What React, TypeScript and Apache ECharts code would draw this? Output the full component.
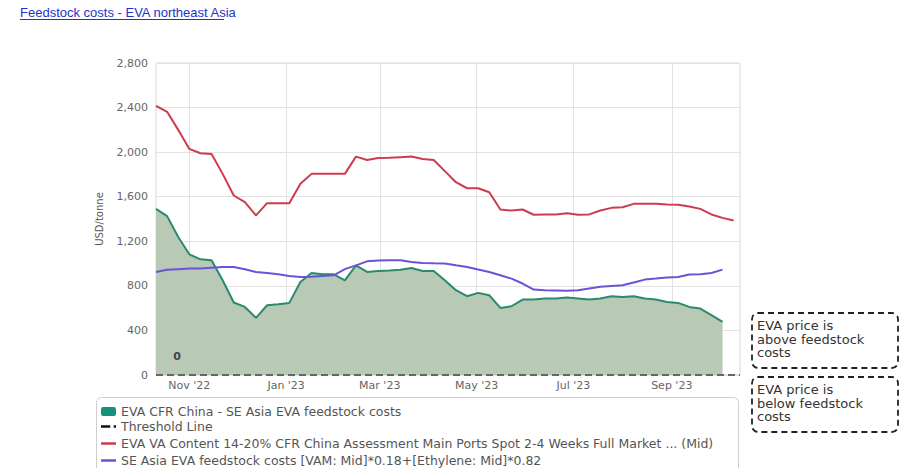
import React, { useEffect, useRef } from "react";
import * as echarts from "echarts";

const titleText = "Feedstock costs - EVA northeast Asia";

const dates = [
  "2022-10-11", "2022-10-18", "2022-10-25", "2022-11-01", "2022-11-08", "2022-11-15", "2022-11-22", "2022-11-29",
  "2022-12-06", "2022-12-13", "2022-12-20", "2022-12-27", "2023-01-03", "2023-01-10", "2023-01-17", "2023-01-24",
  "2023-01-31", "2023-02-07", "2023-02-14", "2023-02-21", "2023-02-28", "2023-03-07", "2023-03-14", "2023-03-21",
  "2023-03-28", "2023-04-04", "2023-04-11", "2023-04-18", "2023-04-25", "2023-05-02", "2023-05-09", "2023-05-16",
  "2023-05-23", "2023-05-30", "2023-06-06", "2023-06-13", "2023-06-20", "2023-06-27", "2023-07-04", "2023-07-11",
  "2023-07-18", "2023-07-25", "2023-08-01", "2023-08-08", "2023-08-15", "2023-08-22", "2023-08-29", "2023-09-05",
  "2023-09-12", "2023-09-19", "2023-09-26", "2023-10-03", "2023-10-10",
];

const spreadValues = [
  1491, 1426, 1238, 1083, 1038, 1029, 850, 651, 611, 513, 626, 635, 647, 835, 916, 904, 904, 850, 984, 925,
  933, 937, 945, 960, 933, 933, 850, 761, 707, 737, 716, 602, 617, 677, 677, 686, 686, 695, 686, 677,
  686, 707, 701, 707, 686, 677, 656, 647, 611, 596, 537, 477,
];

const evaPriceValues = [
  2416, 2362, 2200, 2029, 1990, 1984, 1805, 1611, 1551, 1432, 1542, 1542, 1542, 1716, 1805, 1805, 1805, 1805, 1960, 1930,
  1948, 1950, 1955, 1960, 1939, 1930, 1830, 1730, 1676, 1676, 1640, 1485, 1476, 1485, 1438, 1440, 1441, 1452, 1438, 1441,
  1476, 1500, 1506, 1536, 1536, 1536, 1530, 1527, 1512, 1491, 1441, 1410, 1387,
];

const feedstockValues = [
  925, 945, 950, 955, 955, 962, 969, 969, 949, 925, 915, 904, 889, 880, 882, 889, 895, 950, 984, 1020,
  1028, 1029, 1029, 1014, 1005, 1002, 1000, 984, 969, 946, 925, 895, 865, 821, 767, 761, 758, 755, 761, 776,
  791, 798, 805, 830, 856, 865, 875, 880, 901, 904, 916, 946,
];

const thresholdValue = 0;
const xMin = "2022-10-11";
const xMax = "2023-10-14";
const xTickDates = ["2022-11-01", "2023-01-01", "2023-03-01", "2023-05-01", "2023-07-01", "2023-09-01"];
const yTicks = { min: 0, max: 2800, interval: 400 };

const seriesNames = [
  "EVA CFR China - SE Asia EVA feedstock costs",
  "Threshold Line",
  "EVA VA Content 14-20% CFR China Assessment Main Ports Spot 2-4 Weeks Full Market ... (Mid)",
  "SE Asia EVA feedstock costs [VAM: Mid]*0.18+[Ethylene: Mid]*0.82",
];

const annotations = ["EVA price is\nabove feedstock\ncosts", "EVA price is\nbelow feedstock\ncosts"];

const monthAbbr = ["Jan", "Feb", "Mar", "Apr", "May", "Jun", "Jul", "Aug", "Sep", "Oct", "Nov", "Dec"];
const ts = (d: string) => Date.parse(d + "T00:00:00Z");

export default function App() {
  const ref = useRef<HTMLDivElement>(null);
  useEffect(() => {
    if (!ref.current) return;
    const chart = echarts.init(ref.current, null, { renderer: "svg" });
    const font = "DejaVu Sans";
    const legendText = { fontFamily: font, fontSize: 12.5, color: "#555" };
    const option: any = {
      animation: false,
      backgroundColor: "#ffffff",
      title: {
        text: titleText,
        left: 20,
        top: 6,
        padding: 0,
        textStyle: { fontFamily: "Liberation Sans", fontSize: 13, fontWeight: "normal", color: "#2233cc" },
      },
      grid: { left: 156, top: 63, right: 168, bottom: 93, show: true, borderColor: "#d8d8d8", borderWidth: 1 },
      xAxis: {
        type: "value",
        min: ts(xMin),
        max: ts(xMax),
        axisLine: { show: false },
        axisTick: { show: false, customValues: xTickDates.map(ts) },
        splitLine: { show: true, lineStyle: { color: "#e2e2e2", width: 1 } },
        axisLabel: {
          customValues: xTickDates.map(ts),
          color: "#666",
          fontFamily: font,
          fontSize: 11,
          margin: 5,
          formatter: (v: number) => {
            const d = new Date(v);
            return monthAbbr[d.getUTCMonth()] + " '" + String(d.getUTCFullYear()).slice(2);
          },
        },
      },
      yAxis: {
        type: "value",
        min: yTicks.min,
        max: yTicks.max,
        interval: yTicks.interval,
        name: "USD/tonne",
        nameLocation: "middle",
        nameGap: 52,
        nameTextStyle: { fontFamily: font, fontSize: 10, color: "#555" },
        axisLine: { show: false },
        axisTick: { show: false },
        splitLine: { lineStyle: { color: "#e2e2e2", width: 1 } },
        axisLabel: {
          color: "#666",
          fontFamily: font,
          fontSize: 11,
          margin: 8,
          formatter: (v: number) => v.toLocaleString("en-US"),
        },
      },
      legend: [
        {
          orient: "vertical",
          left: 101,
          top: 405,
          height: 20,
          itemWidth: 15,
          itemHeight: 9,
          padding: 0,
          textStyle: legendText,
          data: [{ name: seriesNames[0], icon: "roundRect" }],
        },
        {
          orient: "vertical",
          left: 101,
          top: 420,
          height: 60,
          itemWidth: 15,
          itemHeight: 2.5,
          itemGap: 4,
          padding: 0,
          textStyle: legendText,
          data: [
            { name: seriesNames[1], icon: "path://M0,0H8V2H0Z M11,0H13V2H11Z" },
            { name: seriesNames[2], icon: "rect" },
            { name: seriesNames[3], icon: "rect" },
          ],
        },
      ],
      series: [
        {
          name: seriesNames[0],
          type: "line",
          symbol: "none",
          color: "#16927b",
          lineStyle: { color: "#2a8a6b", width: 2 },
          areaStyle: { color: "#b8cab6", opacity: 1 },
          data: spreadValues.map((v, i) => [ts(dates[i]), v]),
          z: 1,
        },
        {
          name: seriesNames[1],
          type: "line",
          symbol: "none",
          color: "#111",
          lineStyle: { color: "#666", width: 2, type: [7, 4] },
          data: [
            [ts(xMin), thresholdValue],
            [ts(xMax), thresholdValue],
          ],
          markPoint: {
            symbol: "circle",
            symbolSize: 0,
            data: [{ coord: [ts(xMin), thresholdValue], value: thresholdValue }],
            label: {
              show: true,
              formatter: String(thresholdValue),
              offset: [21, -19],
              color: "#444",
              fontWeight: "bold",
              fontFamily: font,
              fontSize: 11,
            },
          },
          z: 2,
        },
        {
          name: seriesNames[2],
          type: "line",
          symbol: "none",
          color: "#cf3b4e",
          lineStyle: { color: "#cf3b4e", width: 2 },
          data: evaPriceValues.map((v, i) => [ts(dates[i]), v]),
          z: 3,
        },
        {
          name: seriesNames[3],
          type: "line",
          symbol: "none",
          color: "#6b52d6",
          lineStyle: { color: "#6b52d6", width: 2 },
          data: feedstockValues.map((v, i) => [ts(dates[i]), v]),
          z: 4,
        },
      ],
      graphic: [
        { type: "line", z: 10, shape: { x1: 20, y1: 19.5, x2: 224, y2: 19.5 }, style: { stroke: "#2233cc", lineWidth: 1 } },
        {
          type: "rect",
          z: -1,
          shape: { x: 96.5, y: 397.5, width: 642, height: 90, r: 5 },
          style: { fill: "#fff", stroke: "#cfcfcf", lineWidth: 1 },
        },
        ...annotations.flatMap((t, k) => [
          {
            type: "rect",
            shape: { x: 752, y: 313 + k * 64, width: 146, height: 55, r: 6 },
            style: { fill: "#fff", stroke: "#222", lineWidth: 1.8, lineDash: [6, 4] },
          },
          {
            type: "text",
            x: 757,
            y: 319 + k * 64,
            style: { text: t, font: "13px 'DejaVu Sans'", lineHeight: 13.5, fill: "#333" },
          },
        ]),
      ],
    };
    chart.setOption(option);
    return () => chart.dispose();
  }, []);
  return <div ref={ref} style={{ position: "fixed", left: 0, top: 0, width: 908, height: 468 }} />;
}
